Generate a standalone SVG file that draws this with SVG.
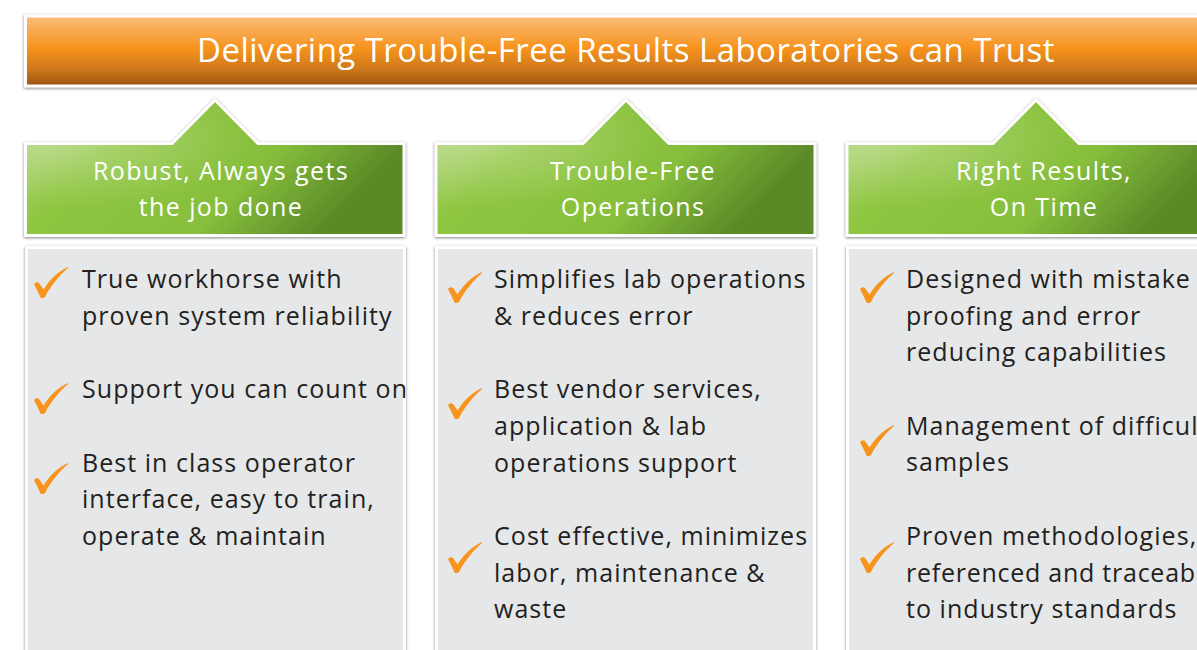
<svg xmlns="http://www.w3.org/2000/svg" width="1197" height="650" viewBox="0 0 1197 650">
<defs>
<linearGradient id="gOrange" x1="0" y1="0" x2="0" y2="1">
<stop offset="0" stop-color="#f9bd7c"/>
<stop offset="0.45" stop-color="#f7941e"/>
<stop offset="0.75" stop-color="#d07a1c"/>
<stop offset="1" stop-color="#9c5414"/>
</linearGradient>
<linearGradient id="gGreen" x1="0" y1="0" x2="1" y2="0.35">
<stop offset="0" stop-color="#aed37a"/>
<stop offset="0.3" stop-color="#8fc641"/>
<stop offset="0.7" stop-color="#87bf3c"/>
<stop offset="1" stop-color="#5a8a28"/>
</linearGradient>
<radialGradient id="gHi" cx="0.1" cy="0.3" r="0.5">
<stop offset="0" stop-color="#ffffff" stop-opacity="0.3"/>
<stop offset="1" stop-color="#ffffff" stop-opacity="0"/>
</radialGradient>
<filter id="sh" x="-5%" y="-10%" width="110%" height="120%">
<feGaussianBlur in="SourceAlpha" stdDeviation="1.6"/>
<feOffset dx="0" dy="1" result="b"/>
<feFlood flood-color="#6d6e70" flood-opacity="0.85"/>
<feComposite in2="b" operator="in"/>
<feMerge><feMergeNode/><feMergeNode in="SourceGraphic"/></feMerge>
</filter>
<path id="chk" fill="#f7941d" d="M0,17 C2,15 4,15 5,16 L9.5,22.5 C16,12 25,4 34,0 L34,1 C26,8 17,18 11,30 C10,31 7,31.5 6.5,30.5 C4.5,26 2,21 0,17 Z"/>
</defs>
<style>
.frame{stroke:#ffffff;stroke-width:3;filter:url(#sh)}
.panel{fill:#e6e7e8}
.title{font-family:"Open Sans","Liberation Sans",sans-serif;font-size:33px;fill:#ffffff;text-anchor:middle;letter-spacing:0.45px}
.head{font-family:"Open Sans","Liberation Sans",sans-serif;font-size:25px;fill:#ffffff;text-anchor:middle;letter-spacing:1.4px}
.body{font-family:"Open Sans","Liberation Sans",sans-serif;font-size:25px;fill:#231f20;letter-spacing:1.05px}
</style>
<rect width="1197" height="650" fill="#ffffff"/>

<g id="banner">
<rect class="frame" x="25.5" y="16" width="1220" height="70" fill="url(#gOrange)"/>
<text class="title" x="626" y="62">Delivering Trouble-Free Results Laboratories can Trust</text>
</g>

<g id="header1">
<path class="frame" fill="url(#gGreen)" d="M25.5,143.5 L172,143.5 L215,100 L258,143.5 L404,143.5 L404,235.5 L25.5,235.5 Z"/>
<path fill="url(#gHi)" d="M27,145 L172.6,145 L215,102 L257.4,145 L402.5,145 L402.5,234 L27,234 Z"/>
<text class="head" x="221" y="180">Robust, Always gets</text>
<text class="head" x="221" y="216">the job done</text>
</g>
<g id="header2">
<path class="frame" fill="url(#gGreen)" d="M436,143.5 L583,143.5 L626,100 L669,143.5 L815,143.5 L815,235.5 L436,235.5 Z"/>
<path fill="url(#gHi)" d="M437.5,145 L583.6,145 L626,102 L668.4,145 L813.5,145 L813.5,234 L437.5,234 Z"/>
<text class="head" x="633" y="180">Trouble-Free</text>
<text class="head" x="633" y="216">Operations</text>
</g>
<g id="header3">
<path class="frame" fill="url(#gGreen)" d="M847,143.5 L993,143.5 L1036,100 L1079,143.5 L1226,143.5 L1226,235.5 L847,235.5 Z"/>
<path fill="url(#gHi)" d="M848.5,145 L993.6,145 L1036,102 L1078.4,145 L1224.5,145 L1224.5,234 L848.5,234 Z"/>
<text class="head" x="1044" y="180">Right Results,</text>
<text class="head" x="1044" y="216">On Time</text>
</g>

<g id="panel1">
<rect class="frame panel" x="26.5" y="247.5" width="378" height="460"/>
<use href="#chk" x="34" y="267"/>
<use href="#chk" x="34" y="383"/>
<use href="#chk" x="34" y="463"/>
<text class="body" x="82" y="288">True workhorse with</text>
<text class="body" x="82" y="325">proven system reliability</text>
<text class="body" x="82" y="398">Support you can count on</text>
<text class="body" x="82" y="472">Best in class operator</text>
<text class="body" x="82" y="508">interface, easy to train,</text>
<text class="body" x="82" y="545">operate &amp; maintain</text>
</g>
<g id="panel2">
<rect class="frame panel" x="436.5" y="247.5" width="378" height="460"/>
<use href="#chk" x="448" y="272"/>
<use href="#chk" x="448" y="388"/>
<use href="#chk" x="448" y="542"/>
<text class="body" x="494" y="288">Simplifies lab operations</text>
<text class="body" x="494" y="325">&amp; reduces error</text>
<text class="body" x="494" y="398">Best vendor services,</text>
<text class="body" x="494" y="435">application &amp; lab</text>
<text class="body" x="494" y="472">operations support</text>
<text class="body" x="494" y="545">Cost effective, minimizes</text>
<text class="body" x="494" y="582">labor, maintenance &amp;</text>
<text class="body" x="494" y="618">waste</text>
</g>
<g id="panel3">
<rect class="frame panel" x="847.5" y="247.5" width="378" height="460"/>
<use href="#chk" x="860" y="272"/>
<use href="#chk" x="860" y="425"/>
<use href="#chk" x="860" y="542"/>
<text class="body" x="906" y="288">Designed with mistake</text>
<text class="body" x="906" y="325">proofing and error</text>
<text class="body" x="906" y="361">reducing capabilities</text>
<text class="body" x="906" y="435">Management of difficul</text>
<text class="body" x="906" y="471">samples</text>
<text class="body" x="906" y="545">Proven methodologies,</text>
<text class="body" x="906" y="582" style="letter-spacing:0.75px">referenced and traceab</text>
<text class="body" x="906" y="618">to industry standards</text>
</g>
<g id="connectors"></g>
</svg>
